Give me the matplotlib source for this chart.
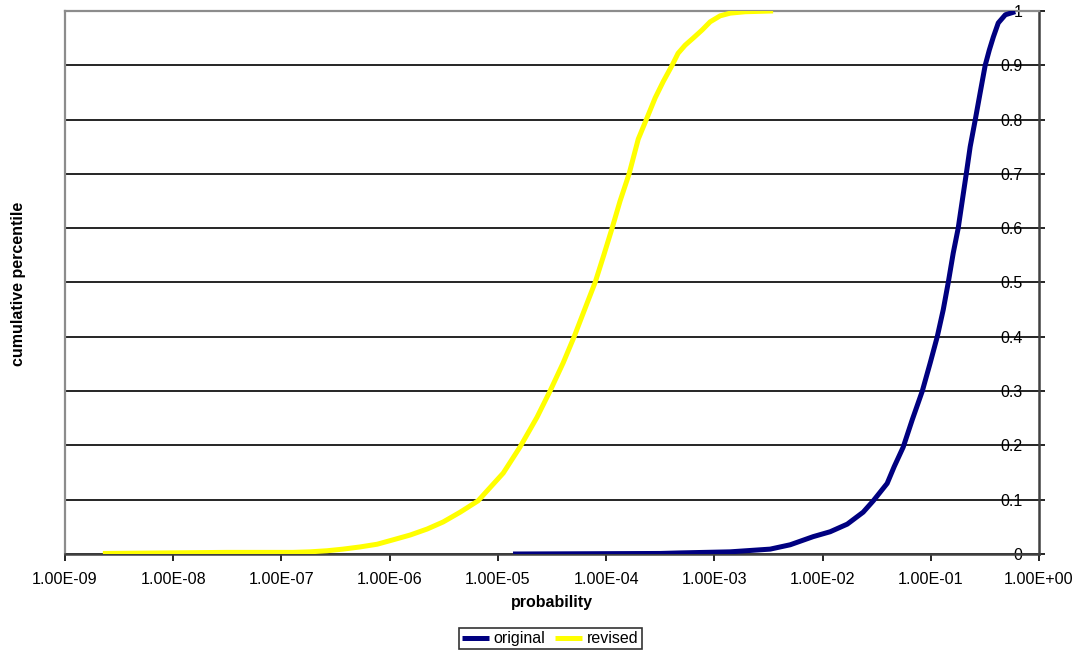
import matplotlib
matplotlib.use("Agg")
import matplotlib.pyplot as plt
import numpy as np
from matplotlib.ticker import FixedLocator, FuncFormatter

plt.rcParams['font.family'] = ['Liberation Sans', 'DejaVu Sans']

# cumulative curves (probability, cumulative percentile)
revised_p = [2.24e-9, 8.05e-9, 3.14e-8, 1.28e-7, 1.84e-7, 2.64e-7, 3.71e-7, 5.32e-7,
             7.66e-7, 1.07e-6, 1.55e-6, 2.22e-6, 3.12e-6, 4.48e-6, 6.56e-6,
             1.12e-5, 1.60e-5, 2.30e-5, 3.03e-5, 4.01e-5, 5.06e-5, 6.67e-5, 7.91e-5,
             9.5e-5, 1.135e-4, 1.345e-4, 1.63e-4, 1.98e-4, 2.34e-4, 2.84e-4,
             3.37e-4, 4.07e-4, 4.62e-4, 5.37e-4, 6.37e-4, 7.71e-4, 9.14e-4,
             1.13e-3, 1.40e-3, 1.93e-3, 3.49e-3]
revised_y = [0.001, 0.002, 0.003, 0.003, 0.004, 0.006, 0.009, 0.013,
             0.018, 0.026, 0.035, 0.046, 0.059, 0.077, 0.098,
             0.149, 0.197, 0.252, 0.300, 0.352, 0.400, 0.462, 0.500,
             0.550, 0.600, 0.650, 0.700, 0.764, 0.799, 0.840,
             0.870, 0.900, 0.922, 0.937, 0.950, 0.965, 0.980,
             0.991, 0.996, 0.9986, 1.0]

original_p = [1.38e-5, 3.15e-4, 4.83e-4, 1.40e-3, 3.28e-3, 5.02e-3, 8.19e-3,
              1.175e-2, 1.69e-2, 2.37e-2, 2.94e-2, 3.95e-2, 4.59e-2, 5.56e-2,
              6.73e-2, 8.34e-2, 9.87e-2, 0.1146, 0.1303, 0.1449, 0.161, 0.179,
              0.195, 0.2125, 0.231, 0.257, 0.286, 0.318, 0.347, 0.378, 0.420,
              0.488, 0.603]
original_y = [0.0, 0.001, 0.002, 0.004, 0.009, 0.017, 0.032,
              0.041, 0.055, 0.077, 0.098, 0.130, 0.161, 0.197,
              0.247, 0.300, 0.352, 0.400, 0.450, 0.500, 0.554, 0.600,
              0.650, 0.700, 0.750, 0.799, 0.850, 0.900, 0.928, 0.952, 0.978,
              0.993, 0.9987]

x_ticks = [10.0 ** e for e in range(-9, 1)]
y_ticks = [round(0.1 * i, 1) for i in range(11)]

fig = plt.figure(figsize=(10.81, 6.53), dpi=100)
ax = fig.add_axes([0.0601, 0.1516, 0.9011, 0.8316])

ax.plot(original_p, original_y, color="#000080", lw=3.6, label="original",
        solid_capstyle="butt", zorder=3)
ax.plot(revised_p, revised_y, color="#FFFF00", lw=3.6, label="revised",
        solid_capstyle="butt", zorder=3)

ax.set_xscale("log")
ax.set_xlim(1e-9, 1)
ax.set_ylim(0, 1)
ax.xaxis.set_major_locator(FixedLocator(x_ticks))
ax.xaxis.set_minor_locator(FixedLocator([]))
ax.xaxis.set_major_formatter(FuncFormatter(lambda v, pos: "%.2E" % v))
ax.set_yticks(y_ticks)
ax.yaxis.set_major_formatter(FuncFormatter(lambda v, pos: "%g" % v))
ax.yaxis.tick_right()

ax.grid(axis="y", color="black", lw=1.2)
ax.grid(axis="x", visible=False)

ax.tick_params(axis="x", direction="out", length=5, width=1.2, labelsize=11.6, pad=8)
ax.tick_params(axis="y", direction="out", length=4, width=1.2, labelsize=11.5, pad=-16)
for t in ax.get_yticklabels():
    t.set_horizontalalignment("right")

for s in ["top", "left"]:
    ax.spines[s].set_color("#8c8c8c")
    ax.spines[s].set_linewidth(1.6)
for s in ["bottom", "right"]:
    ax.spines[s].set_color("#404040")
    ax.spines[s].set_linewidth(1.8)

ax.set_xlabel("probability", fontsize=11.5, fontweight="bold", labelpad=6)
fig.text(0.017, 0.566, "cumulative percentile", rotation=90, fontsize=11.5,
         fontweight="bold", ha="center", va="center")

leg = fig.legend(loc="center", bbox_to_anchor=(0.509, 0.022), ncol=2, fontsize=11.5,
                 frameon=True, fancybox=False, edgecolor="black", handlelength=1.7,
                 handletextpad=0.3, columnspacing=0.6, borderpad=0.2, borderaxespad=0)
leg.get_frame().set_linewidth(1.2)

fig.savefig("out.png", dpi=100)
